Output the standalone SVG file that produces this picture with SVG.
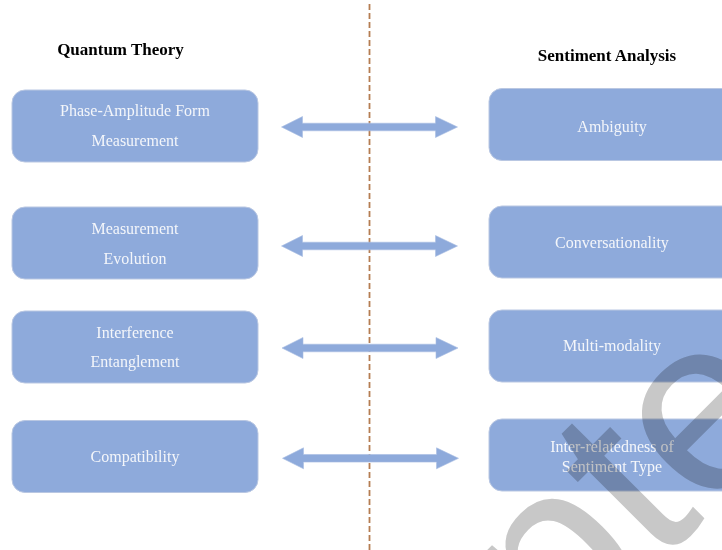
<svg xmlns="http://www.w3.org/2000/svg" width="722" height="550" viewBox="0 0 722 550">
  <style>
    .title { font-family: "Liberation Serif", "Times New Roman", serif; font-weight: bold; font-size: 17px; fill: #000; text-anchor: middle; }
    .box { fill: #8eaadb; stroke: #b9c7e2; stroke-width: 1; }
    .label { font-family: "Liberation Serif", "Times New Roman", serif; font-size: 16px; fill: #f4f6fa; text-anchor: middle; }
    .arrow { fill: #8eaadb; stroke: #a9bde3; stroke-width: 0.6; }
    .divider { stroke: #b57d52; stroke-width: 1.8; stroke-dasharray: 6 3; fill: none; }
    .stamp { font-family: "Liberation Sans", Arial, sans-serif; font-size: 250px; fill: #c8c8c8; mix-blend-mode: multiply; }
  </style>
  <defs>
    <!-- double-headed block arrow, centred on its own origin -->
    <polygon id="dbl" points="-88,0 -67,-10.5 -67,-3.8 66,-3.8 66,-10.5 88,0 66,10.5 66,3.8 -67,3.8 -67,10.5"/>
  </defs>

  <rect width="722" height="550" fill="#ffffff"/>

  <!-- vertical divider -->
  <line class="divider" x1="369.5" y1="4" x2="369.5" y2="550"/>

  <!-- column headings -->
  <text class="title" x="120.5" y="55">Quantum Theory</text>
  <text class="title" x="607" y="61">Sentiment Analysis</text>

  <!-- left column -->
  <g id="q-phase">
    <rect class="box" x="12" y="90" width="246" height="72" rx="13"/>
    <text class="label" x="135" y="116">Phase-Amplitude Form</text>
    <text class="label" x="135" y="145.5">Measurement</text>
  </g>
  <g id="q-evolution">
    <rect class="box" x="12" y="207" width="246" height="72" rx="13"/>
    <text class="label" x="135" y="234">Measurement</text>
    <text class="label" x="135" y="264">Evolution</text>
  </g>
  <g id="q-interference">
    <rect class="box" x="12" y="311" width="246" height="72" rx="13"/>
    <text class="label" x="135" y="337.5">Interference</text>
    <text class="label" x="135" y="367">Entanglement</text>
  </g>
  <g id="q-compatibility">
    <rect class="box" x="12" y="420.5" width="246" height="72" rx="13"/>
    <text class="label" x="135" y="462">Compatibility</text>
  </g>

  <!-- right column -->
  <g id="s-ambiguity">
    <rect class="box" x="489" y="88.5" width="246" height="72" rx="13"/>
    <text class="label" x="612" y="132">Ambiguity</text>
  </g>
  <g id="s-conversation">
    <rect class="box" x="489" y="206" width="246" height="72" rx="13"/>
    <text class="label" x="612" y="247.5">Conversationality</text>
  </g>
  <g id="s-modality">
    <rect class="box" x="489" y="310" width="246" height="72" rx="13"/>
    <text class="label" x="612" y="351">Multi-modality</text>
  </g>
  <g id="s-interrelated">
    <rect class="box" x="489" y="419" width="246" height="72" rx="13"/>
    <text class="label" x="612" y="452">Inter-relatedness of</text>
    <text class="label" x="612" y="472">Sentiment Type</text>
  </g>

  <!-- connectors -->
  <g id="connectors">
    <use class="arrow" href="#dbl" x="369.5" y="127"/>
    <use class="arrow" href="#dbl" x="369.5" y="246"/>
    <use class="arrow" href="#dbl" x="370" y="348"/>
    <use class="arrow" href="#dbl" x="370.5" y="458.3"/>
  </g>

  <!-- diagonal stamp lettering -->
  <text class="stamp" transform="translate(166,1058) rotate(-45)">Accepted</text>
</svg>
